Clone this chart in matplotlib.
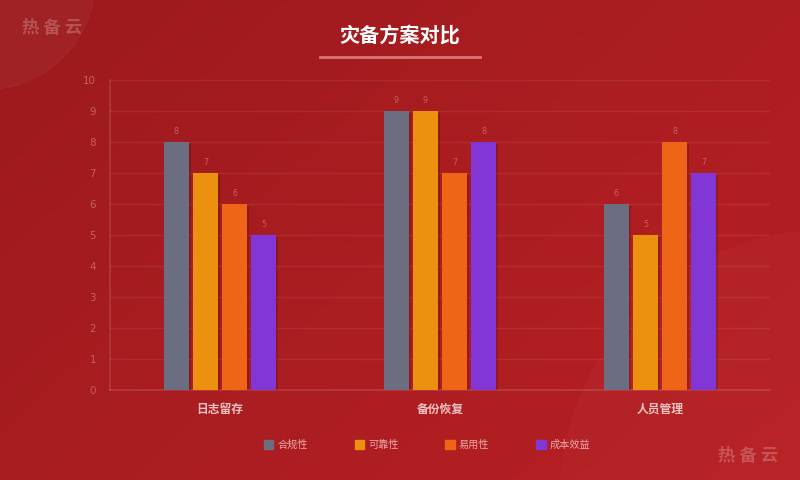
import matplotlib
matplotlib.use('Agg')
import matplotlib.pyplot as plt
import matplotlib.patches as mpatches
import matplotlib.patheffects as pe
from matplotlib.lines import Line2D
import numpy as np

plt.rcParams['font.family'] = ['Noto Sans CJK SC', 'DejaVu Sans']

categories = ['日志留存', '备份恢复', '人员管理']
series_names = ['合规性', '可靠性', '易用性', '成本效益']
compliance = [8, 9, 6]
reliability = [7, 9, 5]
usability = [6, 7, 8]
cost_benefit = [5, 8, 7]
series_values = [compliance, reliability, usability, cost_benefit]
colors = ['#6B6E80', '#EC9010', '#EE6518', '#8236D6']

TICK_COLOR = '#C85E5E'
LABEL_COLOR = '#F0C4C4'

fig = plt.figure(figsize=(8, 4.8), dpi=100)

# background gradient
bg = fig.add_axes([0, 0, 1, 1], zorder=-10)
gx, gy = np.meshgrid(np.linspace(0, 1, 200), np.linspace(0, 1, 120))
t = (gx * 0.6 + gy * 0.4)
c0 = np.array([0x9C, 0x1A, 0x1D]) / 255
c1 = np.array([0xB8, 0x20, 0x24]) / 255
img = c0[None, None, :] * (1 - t[..., None]) + c1[None, None, :] * t[..., None]
bg.imshow(img, extent=[0, 800, 480, 0], aspect='auto')
bg.add_patch(mpatches.Circle((-15, -20), 110, color='white', alpha=0.035))
bg.add_patch(mpatches.Circle((830, 500), 270, color='white', alpha=0.02))
bg.set_xlim(0, 800)
bg.set_ylim(480, 0)
bg.axis('off')

ax = fig.add_axes([110 / 800, 90 / 480, 660 / 800, 310 / 480])
ax.set_facecolor('none')

x = np.arange(len(categories))
width = 0.114
offsets = [-0.198, -0.066, 0.066, 0.198]
shadow = [pe.SimplePatchShadow(offset=(1.5, -1.5), shadow_rgbFace='black', alpha=0.15), pe.Normal()]
for name, vals, off, col in zip(series_names, series_values, offsets, colors):
    bars = ax.bar(x + off, vals, width, color=col, label=name, zorder=3)
    for b in bars:
        b.set_path_effects(shadow)
    for b, v in zip(bars, vals):
        ax.text(b.get_x() + b.get_width() / 2, v + 0.2, str(v), ha='center', va='bottom',
                fontsize=5.8, color=TICK_COLOR, family='DejaVu Sans')

ax.set_xlim(-0.5, 2.5)
ax.set_ylim(0, 10)
ax.set_yticks(range(0, 11))
ax.tick_params(axis='y', length=0, labelsize=7.4, labelcolor=TICK_COLOR, pad=10)
for lbl in ax.get_yticklabels():
    lbl.set_family('DejaVu Sans')
ax.set_xticks(x)
ax.set_xticklabels(categories, fontsize=8.5, fontweight='bold', color=LABEL_COLOR)
ax.tick_params(axis='x', length=0, pad=9)
ax.grid(axis='y', color='white', alpha=0.07, linewidth=1, zorder=0)
ax.spines[['top', 'right']].set_visible(False)
for s in ['left', 'bottom']:
    ax.spines[s].set_color((1, 1, 1, 0.13))
    ax.spines[s].set_linewidth(1.2)

# title + underline
fig.text(0.5, 1 - 35 / 480, '灾备方案对比', ha='center', va='center', fontsize=14.5,
         fontweight='bold', color='white')
fig.add_artist(Line2D([320 / 800, 480 / 800], [1 - 57 / 480, 1 - 57 / 480],
                      color='#E88C8C', linewidth=2, alpha=0.8))

# legend
handles = [mpatches.Patch(color=c, label=n) for c, n in zip(colors, series_names)]
leg = fig.legend(handles=handles, loc='center', bbox_to_anchor=(427 / 800, 1 - 445 / 480),
                 ncol=4, frameon=False, fontsize=7.3, handlelength=0.95, handleheight=0.95,
                 handletextpad=0.4, columnspacing=4.6)
for txt in leg.get_texts():
    txt.set_color('#EDA8A8')

# watermarks
fig.text(52 / 800, 1 - 28 / 480, '热 备 云', ha='center', va='center', fontsize=12.5,
         fontweight='bold', color='white', alpha=0.22)
fig.text(748 / 800, 1 - 456 / 480, '热 备 云', ha='center', va='center', fontsize=12.5,
         fontweight='bold', color='white', alpha=0.22)

fig.savefig('out.png', dpi=100)
